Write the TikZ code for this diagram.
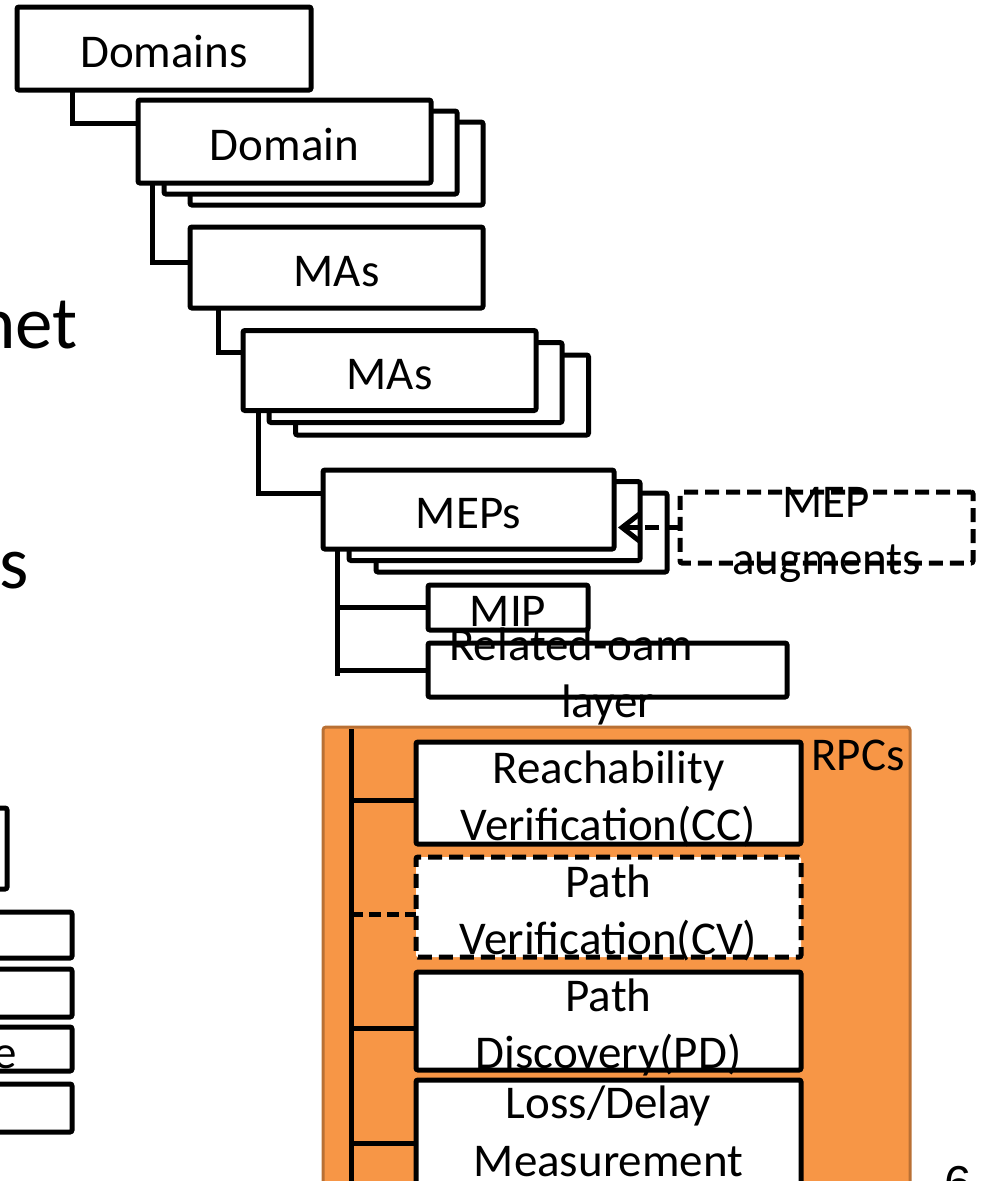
\documentclass[tikz,border=0pt]{standalone}
\usepackage{fontspec}
\setmainfont{Carlito}
\newfontfamily\numfont{Liberation Sans}
\usetikzlibrary{arrows.meta,calc}
\definecolor{rpcfill}{RGB}{247,150,70}
\definecolor{rpcedge}{RGB}{185,112,52}
\begin{document}
\begin{tikzpicture}[x=1pt,y=-1pt,
  box/.style={draw=black, fill=white, line width=5pt, rounded corners=2pt,
              inner sep=0pt, outer sep=0pt},
  dbox/.style={box, dash pattern=on 14pt off 7pt},
  conn/.style={draw=black, line width=5pt},
  dconn/.style={conn, dash pattern=on 12pt off 6pt},
  lbl/.style={font=\fontsize{47}{57}\selectfont, inner sep=0pt, anchor=base},
  big/.style={font=\fontsize{75}{90}\selectfont, inner sep=0pt, anchor=base east},
  panel/.style={draw=rpcedge, fill=rpcfill, line width=3pt, rounded corners=3pt,
                inner sep=0pt, outer sep=0pt},
]
\useasboundingbox (0,0) rectangle (982,1181);
\clip (0,0) rectangle (982,1181);

% ---- RPC panel (behind everything else) ----
\node[panel, minimum width=587pt, minimum height=490pt] (rpcpanel) at (616.5,972) {};

% ---- left column boxes, partly off the page ----
\node[box, minimum width=307pt, minimum height=81pt] (lefta) at (-146.5,848.5) {};
\node[box, minimum width=372pt, minimum height=46pt] (leftb) at (-114,935) {};
\node[box, minimum width=372pt, minimum height=48pt] (leftc) at (-114,993) {};
\node[box, minimum width=372pt, minimum height=44pt] (leftd) at (-114,1049) {};
\node[box, minimum width=372pt, minimum height=48pt] (lefte) at (-114,1108) {};
\node[lbl, anchor=base east] (lefttext) at (17,1068) {e};

% ---- slide body text cut at the left edge ----
\node[big] (tnet) at (78,348) {net};
\node[big] (ts) at (29,588) {s};

% ---- hierarchy ----
\node[box, minimum width=294pt, minimum height=83pt] (domains) at (164,48.5) {};

\node[box, minimum width=293pt, minimum height=83pt] (domainc) at (336.5,163.5) {};
\node[box, minimum width=293pt, minimum height=83pt] (domainb) at (310.5,152.5) {};
\node[box, minimum width=293pt, minimum height=83pt] (domain)  at (284.5,141.5) {};

\node[box, minimum width=293pt, minimum height=81pt] (mas) at (336.5,267.5) {};

\node[box, minimum width=293pt, minimum height=80pt] (masc) at (442,395) {};
\node[box, minimum width=293pt, minimum height=80pt] (masb) at (415.5,382.5) {};
\node[box, minimum width=293pt, minimum height=80pt] (mastwo) at (389.5,370.5) {};

\node[box, minimum width=291pt, minimum height=79pt] (mepsc) at (521.5,532.5) {};
\node[box, minimum width=291pt, minimum height=79pt] (mepsb) at (494.5,521) {};
\node[box, minimum width=291pt, minimum height=79pt] (meps)  at (468.5,509.5) {};

\node[box, minimum width=160pt, minimum height=45pt] (mip) at (508,607.5) {};
\node[box, minimum width=359pt, minimum height=54pt] (rel) at (607.5,670) {};
\node[dbox, minimum width=293pt, minimum height=71pt] (aug) at (826.5,527.5) {};

% connectors of the tree
\draw[conn] ($(domains.south west)+(55,0)$) |- ($(domain.north west)+(0,23)$);
\draw[conn] ($(domain.south west)+(14,0)$) |- ($(mas.north west)+(0,35)$);
\draw[conn] ($(mas.south west)+(28,0)$) |- ($(mastwo.north west)+(0,22)$);
\draw[conn] ($(mastwo.south west)+(15,0)$) |- ($(meps.north west)+(0,23)$);
\coordinate (mepsfoot) at ($(meps.south west)+(14,0)$);
\coordinate (mepsend) at ($(mepsfoot |- rel.west)+(0,6)$);
\draw[conn] (mepsfoot) -- (mepsend);
\draw[conn] (mepsfoot |- mip.west) -- (mip.west);
\draw[conn] (mepsfoot |- rel.west) -- (rel.west);

% augment relation
\draw[conn, dash pattern=on 14pt off 7pt, -{Straight Barb[length=18pt,width=28pt]}]
  (aug.west) -- ($(aug.west -| meps.east)+(4,0)$);

% ---- RPC list ----
\coordinate (railtop) at (351,729);
\coordinate (railbot) at (351,1200);
\draw[conn] (railtop) -- (railbot);

\node[box, minimum width=385pt, minimum height=102pt] (reach) at (608.5,793) {};
\node[dbox, minimum width=385pt, minimum height=100pt] (pathcv) at (608.5,907) {};
\node[box, minimum width=385pt, minimum height=98pt] (pathpd) at (608.5,1021) {};
\node[box, minimum width=385pt, minimum height=106pt] (lossdm) at (608.5,1133) {};

\draw[conn]  ($(railtop |- reach.west)+(0,7)$)  -- ($(reach.west)+(0,7)$);
\draw[dconn] ($(railtop |- pathcv.west)+(0,7)$) -- ($(pathcv.west)+(0,7)$);
\draw[conn]  ($(railtop |- pathpd.west)+(0,7)$) -- ($(pathpd.west)+(0,7)$);
\draw[conn]  ($(railtop |- lossdm.west)+(0,10)$) -- ($(lossdm.west)+(0,10)$);

% ---- labels ----
\node[lbl] (tdomains) at (164,67) {Domains};
\node[lbl] (tdomain) at (284.5,160) {Domain};
\node[lbl] (tmas) at (336.5,286) {MAs};
\node[lbl] (tmastwo) at (389.5,389) {MAs};
\node[lbl] (tmeps) at (468.5,528) {MEPs};
\node[lbl] (tmip) at (508,626) {MIP};
\node[lbl] (trela) at (571,660) {Related-oam};
\node[lbl] (trelb) at (607.5,717) {layer};
\node[lbl] (tauga) at (826.5,517) {MEP};
\node[lbl] (taugb) at (826.5,574) {augments};
\node[lbl, anchor=base west] (trpcs) at (811,770) {RPCs};

\node[lbl] (treacha) at (608.5,783) {Reachability};
\node[lbl] (treachb) at (608.5,840) {Verification(CC)};
\node[lbl] (tcva) at (608.5,897) {Path};
\node[lbl] (tcvb) at (608.5,954) {Verification(CV)};
\node[lbl] (tpda) at (608.5,1011) {Path};
\node[lbl] (tpdb) at (608.5,1068) {Discovery(PD)};
\node[lbl] (tlossa) at (608.5,1118) {Loss/Delay};
\node[lbl] (tlossb) at (608.5,1176) {Measurement};

% slide number
\node[font=\numfont\fontsize{49}{58}\selectfont, anchor=base west, inner sep=0pt]
  (pagenum) at (944,1200) {6};
\end{tikzpicture}
\end{document}
